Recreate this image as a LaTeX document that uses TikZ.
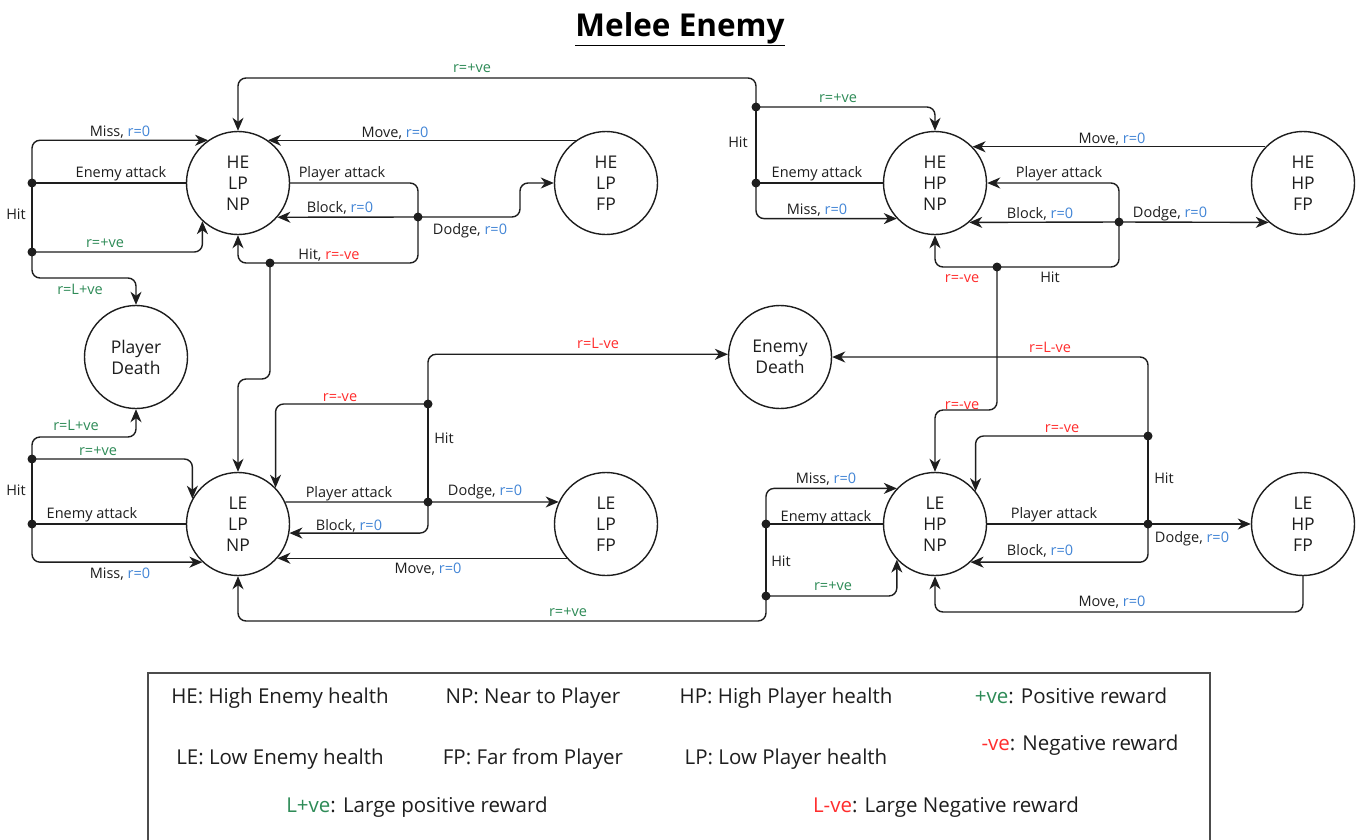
\documentclass[tikz,border=0pt]{standalone}
\usepackage{fontspec}
\setmainfont{Open Sans}
\usetikzlibrary{arrows.meta}
\definecolor{rblue}{RGB}{66,133,214}
\definecolor{rgreen}{RGB}{46,139,87}
\definecolor{rred}{RGB}{255,45,45}
\definecolor{ink}{RGB}{30,30,30}
\newcommand\rz{\textcolor{rblue}{r=0}}
\newcommand\rp{\textcolor{rgreen}{r=+ve}}
\newcommand\rn{\textcolor{rred}{r=-ve}}
\newcommand\rLp{\textcolor{rgreen}{r=L+ve}}
\newcommand\rLn{\textcolor{rred}{r=L-ve}}
\begin{document}
\begin{tikzpicture}[x=1pt,y=-1pt,
  state/.style={circle,draw=ink,line width=1.4pt,minimum size=103pt,inner sep=0pt,align=center,
    font=\fontsize{17.5}{21}\selectfont,text=ink},
  conn/.style={draw=ink,line width=1.4pt,rounded corners=8pt},
  arr/.style={conn,-{Stealth[length=13pt,width=11pt,inset=4pt]}},
  lab/.style={font=\fontsize{14.5}{16}\selectfont,text=ink,inner sep=0pt,anchor=base,yshift=-5.2pt},
  leg/.style={font=\fontsize{20.5}{24}\selectfont,text=ink,inner sep=0pt,anchor=base,yshift=-7.3pt}]
\useasboundingbox (0,0) rectangle (1362,839);
\fill[white] (0,0) rectangle (1362,839);

% title
\node[font=\fontsize{31.5}{36}\selectfont\bfseries,text=black,anchor=base,inner sep=0pt] (title) at (680,36) {\underline{Melee Enemy}};

% states
\node[state] (A) at (238,183) {HE\\LP\\NP};
\node[state] (B) at (606,183) {HE\\LP\\FP};
\node[state] (C) at (935,183) {HE\\HP\\NP};
\node[state] (D) at (1303,183) {HE\\HP\\FP};
\node[state] (E) at (238,524) {LE\\LP\\NP};
\node[state] (F) at (606,524) {LE\\LP\\FP};
\node[state] (G) at (935,524) {LE\\HP\\NP};
\node[state] (H) at (1303,524) {LE\\HP\\FP};
\node[state] (P) at (136,357) {Player\\Death};
\node[state] (Q) at (780,357) {Enemy\\Death};

% junctions
\coordinate (jA1) at (32,183);
\coordinate (jA2) at (32,252);
\coordinate (jA3) at (418,217);
\coordinate (jA4) at (270,263);
\coordinate (jC1) at (756,107);
\coordinate (jC2) at (756,183);
\coordinate (jC3) at (1119,222);
\coordinate (jC4) at (997,267);
\coordinate (jE1) at (32,459);
\coordinate (jE2) at (32,524);
\coordinate (jE0) at (428,404);
\coordinate (jE3) at (428,502);
\coordinate (jG1) at (1148,436);
\coordinate (jG2) at (766,524);
\coordinate (jG3) at (766,596);
\coordinate (jG4) at (1148,524);

% ---- group A (HE LP NP)
\draw[conn] (A.west) -- (jA1);
\draw[arr] (jA1) |- (A.125);
\draw[conn] (jA1) -- (jA2);
\draw[arr] (jA2) -| (A.227);
\draw[arr] (jA2) -- (32,278) -| (P.north);
\draw[conn] (A.east) -| (jA3);
\draw[arr] (jA3) -- (A.-41);
\draw[conn] (jA3) |- (jA4);
\draw[arr] (jA4) -| (A.south);
\draw[arr] (jA4) -- (270,379) -| (E.north);
\draw[arr] (jA3) -- (520,217) -- (520,183) -- (B.west);
\draw[arr] (B.125) -- (A.55);
\draw[arr] (jC1) |- (500,78) -| (A.north);

% ---- group C (HE HP NP)
\draw[conn] (C.west) -- (jC2);
\draw[conn] (jC2) -- (jC1);
\draw[arr] (jC1) -| (C.north);
\draw[arr] (jC2) |- (C.223);
\draw[arr] (jC3) |- (C.east);
\draw[conn] (jC3) |- (jC4);
\draw[arr] (jC4) -| (C.south);
\draw[arr] (jC3) -- (C.-49);
\draw[arr] (jC3) -- (D.229);
\draw[arr] (jC4) -- (997,410) -| (G.north);
\draw[arr] (D.136) -- (C.44);

% ---- group E (LE LP NP)
\draw[conn] (E.west) -- (jE2);
\draw[conn] (jE2) -- (jE1);
\draw[arr] (jE1) -- (32,437) -| (P.south);
\draw[arr] (jE1) -| (E.151);
\draw[arr] (jE2) |- (E.227);
\draw[conn] (E.25) -- (jE3);
\draw[arr] (jE3) |- (E.-10);
\draw[conn] (jE3) -- (jE0);
\draw[arr] (jE0) -| (E.44);
\draw[arr] (jE0) |- (Q.177);
\draw[arr] (jE3) -- (F.155);
\draw[arr] (F.221) -- (E.-41);

% ---- group G (LE HP NP)
\draw[conn] (G.west) -- (jG2);
\draw[arr] (jG2) |- (G.137);
\draw[conn] (jG2) -- (jG3);
\draw[arr] (jG3) -| (G.223);
\draw[arr] (jG3) -- (766,621) -| (E.south);
\draw[conn] (G.east) -- (jG4);
\draw[arr] (jG4) -- (H.west);
\draw[arr] (jG4) |- (G.-47);
\draw[conn] (jG4) -- (jG1);
\draw[arr] (jG1) -| (G.39);
\draw[arr] (jG1) |- (Q.east);
\draw[arr] (H.south) -- (1303,612) -| (G.south);

% dots
\foreach \j in {jA1,jA2,jA3,jA4,jC1,jC2,jC3,jC4,jE0,jE1,jE2,jE3,jG1,jG2,jG3,jG4}
  \fill[ink] (\j) circle[radius=4.5pt];

% labels group A
\node[lab] (l1) at (120,131) {Miss, \rz};
\node[lab] (l2) at (121,172) {Enemy attack};
\node[lab] (l3) at (16,214) {Hit};
\node[lab] (l4) at (105,242) {\rp};
\node[lab] (l5) at (80,289) {\rLp};
\node[lab] (l6) at (395,132) {Move, \rz};
\node[lab] (l7) at (342,172) {Player attack};
\node[lab] (l8) at (340,207) {Block, \rz};
\node[lab] (l9) at (470,229) {Dodge, \rz};
\node[lab] (l10) at (329,254) {Hit, \rn};
\node[lab] (l11) at (472,67) {\rp};
% labels group C
\node[lab] (l12) at (838,97) {\rp};
\node[lab] (l13) at (738,142) {Hit};
\node[lab] (l14) at (817,172) {Enemy attack};
\node[lab] (l15) at (817,209) {Miss, \rz};
\node[lab] (l16) at (1112,138) {Move, \rz};
\node[lab] (l17) at (1059,172) {Player attack};
\node[lab] (l18) at (1040,213) {Block, \rz};
\node[lab] (l19) at (1170,212) {Dodge, \rz};
\node[lab] (l20) at (962,277) {\rn};
\node[lab] (l21) at (1050,277) {Hit};
% middle
\node[lab] (l22) at (598,343) {\rLn};
\node[lab] (l23) at (1050,347) {\rLn};
\node[lab] (l24) at (340,396) {\rn};
\node[lab] (l25) at (444,438) {Hit};
\node[lab] (l26) at (962,404) {\rn};
\node[lab] (l27) at (1062,427) {\rn};
% labels group E
\node[lab] (l28) at (76,425) {\rLp};
\node[lab] (l29) at (98,450) {\rp};
\node[lab] (l30) at (16,490) {Hit};
\node[lab] (l31) at (92,513) {Enemy attack};
\node[lab] (l32) at (120,573) {Miss, \rz};
\node[lab] (l33) at (349,492) {Player attack};
\node[lab] (l34) at (349,525) {Block, \rz};
\node[lab] (l35) at (485,490) {Dodge, \rz};
\node[lab] (l36) at (428,568) {Move, \rz};
\node[lab] (l37) at (568,611) {\rp};
% labels group G
\node[lab] (l38) at (826,478) {Miss, \rz};
\node[lab] (l39) at (826,516) {Enemy attack};
\node[lab] (l40) at (781,561) {Hit};
\node[lab] (l41) at (833,585) {\rp};
\node[lab] (l42) at (1054,513) {Player attack};
\node[lab] (l43) at (1164,478) {Hit};
\node[lab] (l44) at (1192,537) {Dodge, \rz};
\node[lab] (l45) at (1040,550) {Block, \rz};
\node[lab] (l46) at (1112,601) {Move, \rz};

% legend
\draw[draw=black!70,line width=1.4pt] (148,873) -- (148,673) -- (1210,673) -- (1210,873);
\node[leg] (lg1) at (280,696) {HE: High Enemy health};
\node[leg] (lg2) at (533,696) {NP: Near to Player};
\node[leg] (lg3) at (786,696) {HP: High Player health};
\node[leg] (lg4) at (1071,696) {\textcolor{rgreen}{+ve}: Positive reward};
\node[leg] (lg5) at (280,757) {LE: Low Enemy health};
\node[leg] (lg6) at (533,757) {FP: Far from Player};
\node[leg] (lg7) at (786,757) {LP: Low Player health};
\node[leg] (lg8) at (1080,743) {\textcolor{rred}{-ve}: Negative reward};
\node[leg] (lg9) at (417,805) {\textcolor{rgreen}{L+ve}: Large positive reward};
\node[leg] (lg10) at (946,805) {\textcolor{rred}{L-ve}: Large Negative reward};
\end{tikzpicture}
\end{document}
